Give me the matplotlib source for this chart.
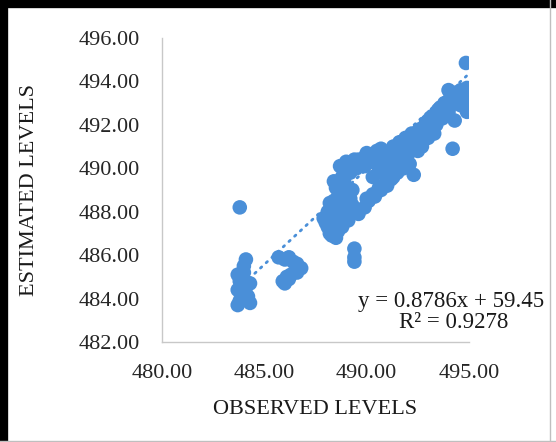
import matplotlib
matplotlib.use('Agg')
import matplotlib.pyplot as plt
from matplotlib.lines import Line2D
import numpy as np

# observed vs estimated levels
observed = [
    483.8, 484.1, 484.0, 483.7, 483.8, 484.3, 484.1, 483.7, 483.9, 483.8, 484.3, 483.7, 484.2, 484.0,
    485.7, 486.0, 486.2, 486.4, 486.6, 486.8, 486.6, 486.3, 486.2, 486.0, 485.9, 486.1,
    489.4, 489.4, 489.4,
    487.9, 488.1, 488.1, 488.3, 488.4, 488.6, 488.7, 488.9, 488.5, 488.8, 489.1, 489.3,
    488.2, 488.6, 488.9, 489.6, 489.9, 490.0, 490.3, 490.6, 490.9, 491.2, 491.5, 491.8, 492.1, 492.3,
    488.6, 488.8, 488.7, 489.0, 489.3, 489.6, 489.9, 490.2, 490.5, 488.4,
    490.6, 490.8, 491.0, 491.2, 491.3, 491.5, 491.6, 491.8, 491.9, 492.1, 492.2, 492.4, 492.5,
    492.6, 492.8, 492.9, 493.0, 493.1, 493.2, 493.4, 493.5, 493.7, 493.8, 494.0, 494.1, 494.3,
    494.4, 494.6, 494.8, 494.9, 494.0, 494.9, 494.85, 494.2, 491.0, 491.6, 492.0,
    488.0, 488.2, 488.3, 488.5, 488.7, 488.9, 489.0, 489.2, 488.4, 488.6, 489.1, 488.8, 488.5, 488.2,
    488.9, 489.1, 489.4, 489.8, 490.0, 490.4, 490.7, 488.7, 488.5,
    490.1, 490.4, 490.7, 491.0, 491.3, 490.9, 491.1, 491.4, 491.7, 492.0, 492.3, 492.6, 492.9,
    493.2, 493.5, 493.8, 494.1, 494.4, 494.7, 490.8, 491.5, 492.0, 492.5, 493.0, 493.6, 494.2,
    494.6, 494.9, 492.7, 493.3,
    488.9, 489.2, 489.5, 489.9, 490.3, 490.6, 489.0, 490.5,
    490.3, 489.3, 490.7,
]
estimated = [
    488.2, 485.8, 485.5, 485.1, 484.8, 484.7, 484.5, 484.4, 484.2, 483.9, 483.8, 483.7, 484.1, 485.2,
    485.9, 485.8, 485.9, 485.7, 485.6, 485.4, 485.2, 485.1, 484.9, 484.7, 484.8, 485.0,
    486.3, 485.9, 485.7,
    487.7, 488.0, 487.3, 486.9, 487.6, 487.1, 487.7, 487.9, 488.2, 488.4, 488.1, 488.3,
    488.4, 488.7, 488.8, 487.9, 488.2, 488.6, 488.8, 489.1, 489.3, 489.5, 489.8, 490.0, 490.2, 489.7,
    489.2, 489.6, 490.1, 490.3, 490.2, 490.4, 490.5, 490.6, 490.8, 489.4,
    490.0, 490.3, 490.7, 490.1, 491.0, 490.6, 491.2, 490.9, 491.4, 491.1, 491.6, 491.3, 490.8,
    491.8, 491.5, 492.1, 491.4, 491.8, 492.4, 492.0, 492.7, 492.3, 493.0, 492.6, 493.4, 492.2,
    493.0, 493.6, 493.2, 492.6, 493.6, 493.7, 494.85, 490.9, 489.8, 490.4, 490.6,
    487.5, 487.8, 488.2, 487.4, 488.0, 488.3, 488.6, 488.6, 488.5, 488.3, 487.6, 487.3, 486.8, 487.0,
    489.9, 490.1, 490.4, 490.3, 490.7, 490.6, 490.9, 488.9, 489.1,
    488.5, 488.7, 489.0, 489.2, 489.6, 489.7, 490.4, 490.5, 490.7, 491.0, 491.2, 491.4, 491.7,
    492.0, 492.3, 492.6, 492.9, 493.3, 493.5, 490.5, 491.0, 491.4, 491.7, 492.2, 492.8, 493.1,
    492.9, 493.0, 491.0, 491.6,
    489.4, 489.8, 490.0, 490.1, 490.3, 490.5, 489.0, 490.2,
    489.6, 489.0, 489.9,
]

slope, intercept, r2 = 0.8786, 59.45, 0.9278
x_ticks = [480, 485, 490, 495]
y_ticks = [482, 484, 486, 488, 490, 492, 494, 496]

blue = '#4A8FD8'
serif = 'Liberation Serif'

fig = plt.figure(figsize=(5.56, 4.42), dpi=100)
ax = fig.add_axes([162 / 556, 1 - 342 / 442, 307 / 556, 304 / 442])

ax.scatter(observed, estimated, s=110, color=blue, edgecolors='none', zorder=3)

xs = np.array([min(observed), max(observed)])
ax.plot(xs, slope * xs + intercept, color=blue, lw=2, linestyle=(0, (0.6, 2.2)),
        dash_capstyle='round', zorder=2)

ax.set_xlim(480, 495)
ax.set_ylim(482, 496)
ax.set_xticks(x_ticks)
ax.set_yticks(y_ticks)
ax.set_xticklabels(['%.2f' % v for v in x_ticks], fontfamily=serif, fontsize=16, color='#262626')
ax.set_yticklabels(['%.2f' % v for v in y_ticks], fontfamily=serif, fontsize=16, color='#262626')
ax.tick_params(axis='both', length=0)
ax.tick_params(axis='x', pad=16)
ax.tick_params(axis='y', pad=16)

for side in ['top', 'right']:
    ax.spines[side].set_visible(False)
for side in ['left', 'bottom']:
    ax.spines[side].set_color('#C8C8C8')
    ax.spines[side].set_linewidth(1)

fig.text(315 / 556, 1 - 409 / 442, 'OBSERVED LEVELS', ha='center', va='center',
         fontfamily=serif, fontsize=16, color='#1a1a1a')
fig.text(30 / 556, 1 - 190 / 442, 'ESTIMATED LEVELS', ha='center', va='center',
         rotation=90, fontfamily=serif, fontsize=16, color='#1a1a1a')

fig.text(451 / 556, 1 - 302 / 442, 'y = %.4fx + %.2f' % (slope, intercept), ha='center',
         va='center', fontfamily=serif, fontsize=16.5, color='#1a1a1a')
fig.text(454 / 556, 1 - 323 / 442, 'R² = %.4f' % r2, ha='center', va='center',
         fontfamily=serif, fontsize=16.5, color='#1a1a1a')

# frame around the picture
fig.add_artist(Line2D([4 / 556, 4 / 556], [0, 1], color='black', lw=6, transform=fig.transFigure))
fig.add_artist(Line2D([0, 1], [1 - 4 / 442, 1 - 4 / 442], color='black', lw=6, transform=fig.transFigure))
fig.add_artist(Line2D([549.5 / 556, 549.5 / 556], [0, 1], color='#BFBFBF', lw=1, transform=fig.transFigure))
fig.add_artist(Line2D([0, 1], [1.5 / 442, 1.5 / 442], color='#BFBFBF', lw=1, transform=fig.transFigure))

fig.savefig('out.png', dpi=100)
